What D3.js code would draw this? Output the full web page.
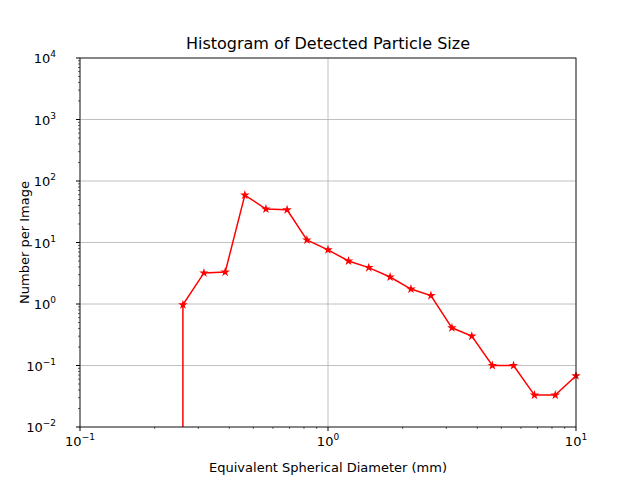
<!DOCTYPE html>
<html><head><meta charset="utf-8">
<script src="https://cdn.jsdelivr.net/npm/d3@7"></script>
<style>body{margin:0;background:#fff}text{font-family:"DejaVu Sans",sans-serif}</style>
</head><body><div id="chart"></div>
<script>
var sizes = [0.26, 0.26, 0.316, 0.385, 0.462, 0.562, 0.684, 0.822, 1.0, 1.21, 1.46, 1.78, 2.16, 2.6, 3.16, 3.8, 4.6, 5.6, 6.8, 8.25, 10]
var counts = [0, 0.97, 3.2, 3.3, 59, 35, 34, 11, 7.6, 5.0, 3.9, 2.75, 1.75, 1.37, 0.41, 0.30, 0.1, 0.1, 0.033, 0.033, 0.068]
var xTicks = [-1, 0, 1]
var yTicks = [-2, -1, 0, 1, 2, 3, 4]

var W = 640, H = 480, L = 80, R = 576, T = 58, B = 427
var svg = d3.select('#chart').append('svg').attr('width', W).attr('height', H)
var x = d3.scaleLog().domain([0.1, 10]).range([L, R])
var y = d3.scaleLog().domain([0.01, 1e4]).range([B, T])

svg.append('clipPath').attr('id', 'clip').append('rect')
  .attr('x', L).attr('y', T).attr('width', R - L).attr('height', B - T)

// grid
xTicks.forEach(function(e){
  svg.append('line').attr('x1', x(Math.pow(10, e))).attr('x2', x(Math.pow(10, e)))
    .attr('y1', T).attr('y2', B).attr('stroke', '#b0b0b0').attr('stroke-width', 0.8)
})
yTicks.forEach(function(e){
  svg.append('line').attr('y1', y(Math.pow(10, e))).attr('y2', y(Math.pow(10, e)))
    .attr('x1', L).attr('x2', R).attr('stroke', '#b0b0b0').attr('stroke-width', 0.8)
})

// minor ticks
for (var d = -1; d < 1; d++) for (var m = 2; m < 10; m++) {
  var xv = x(m * Math.pow(10, d))
  svg.append('line').attr('x1', xv).attr('x2', xv).attr('y1', B).attr('y2', B + 2).attr('stroke', '#000').attr('stroke-width', 0.6)
}
for (var d = -2; d < 4; d++) for (var m = 2; m < 10; m++) {
  var yv = y(m * Math.pow(10, d))
  svg.append('line').attr('y1', yv).attr('y2', yv).attr('x1', L).attr('x2', L - 2).attr('stroke', '#000').attr('stroke-width', 0.6)
}

function sup(sel, e){
  sel.append('tspan').text('10')
  sel.append('tspan').attr('dy', -6).attr('font-size', 9).text(e < 0 ? '\u2212' + (-e) : e)
}
xTicks.forEach(function(e){
  var xv = x(Math.pow(10, e))
  svg.append('line').attr('x1', xv).attr('x2', xv).attr('y1', B).attr('y2', B + 4).attr('stroke', '#000')
  sup(svg.append('text').attr('x', xv).attr('y', B + 19).attr('text-anchor', 'middle').attr('font-size', 13), e)
})
yTicks.forEach(function(e){
  var yv = y(Math.pow(10, e))
  svg.append('line').attr('y1', yv).attr('y2', yv).attr('x1', L).attr('x2', L - 4).attr('stroke', '#000')
  sup(svg.append('text').attr('x', L - 24).attr('y', yv + 5).attr('text-anchor', 'end').attr('font-size', 13), e)
})

var pts = sizes.map(function(s, i){ return [x(s), counts[i] > 0 ? y(counts[i]) : B + 100] })
svg.append('g').attr('clip-path', 'url(#clip)').append('path')
  .attr('d', d3.line()(pts)).attr('fill', 'none').attr('stroke', 'red').attr('stroke-width', 1.5)

svg.selectAll('.mk').data(sizes.map(function(s, i){ return [s, counts[i]] }).filter(function(p){ return p[1] > 0 }))
  .enter().append('path')
  .attr('transform', function(p){ return 'translate(' + x(p[0]) + ',' + y(p[1]) + ')' })
  .attr('d', d3.symbol().type(d3.symbolStar).size(28)).attr('fill', 'red')

svg.append('rect').attr('x', L).attr('y', T).attr('width', R - L).attr('height', B - T)
  .attr('fill', 'none').attr('stroke', '#000').attr('stroke-width', 0.8)

svg.append('text').attr('x', (L + R) / 2).attr('y', 49).attr('text-anchor', 'middle').attr('font-size', 16).text('Histogram of Detected Particle Size')
svg.append('text').attr('x', (L + R) / 2).attr('y', 472).attr('text-anchor', 'middle').attr('font-size', 13).text('Equivalent Spherical Diameter (mm)')
svg.append('text').attr('transform', 'translate(29,' + (T + B) / 2 + ') rotate(-90)').attr('text-anchor', 'middle').attr('font-size', 13).text('Number per Image')
</script></body></html>
